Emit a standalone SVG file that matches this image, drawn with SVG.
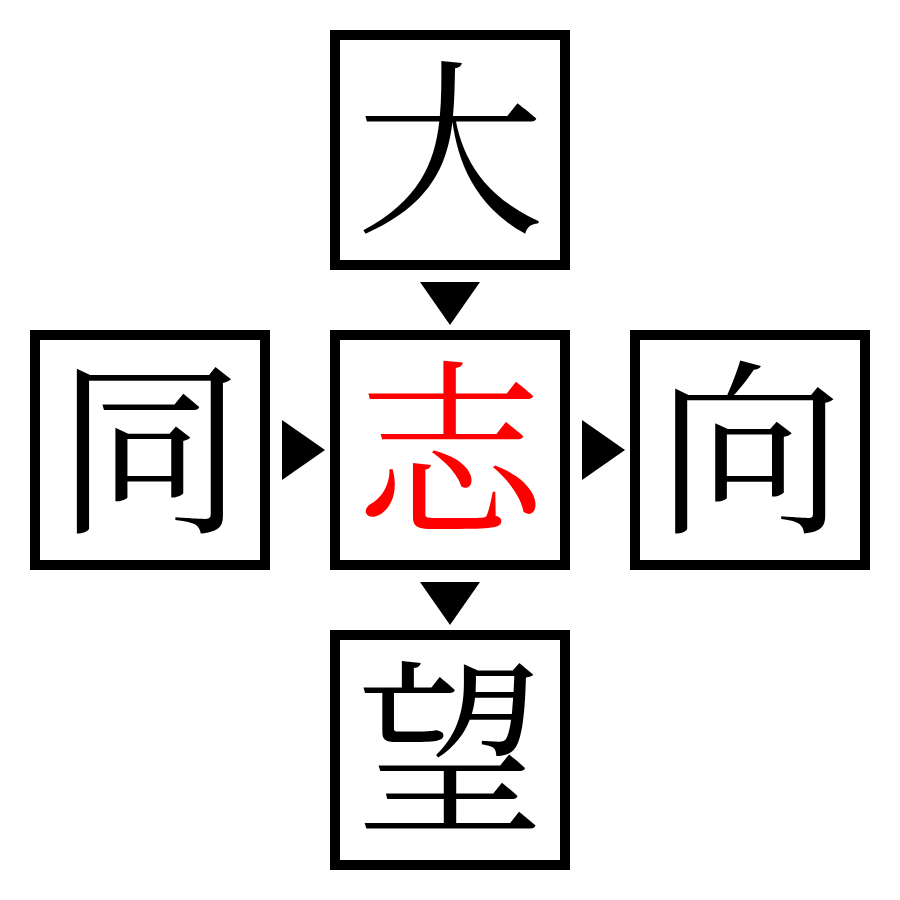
<svg xmlns="http://www.w3.org/2000/svg" width="900" height="900" viewBox="0 0 900 900">
<style>
.box{fill:#fff;stroke:#000;stroke-width:10}
.ch{font-family:"Noto Serif CJK JP","Noto Sans CJK JP","Noto Sans CJK SC",serif;font-size:188px;text-anchor:middle;fill:#000}
.hl{fill:#ff0000}
.arr{fill:#000}
</style>
<rect width="900" height="900" fill="#fff"/>
<g id="connectors">
<polygon class="arr" points="420,282 480,282 450,325"/>
<polygon class="arr" points="420,582 480,582 450,625"/>
<polygon class="arr" points="282,420 282,480 325,450"/>
<polygon class="arr" points="582,420 582,480 625,450"/>
</g>
<g id="node-top"><rect class="box" x="335" y="35" width="230" height="230"/><text class="ch" x="450" y="218">大</text></g>
<g id="node-left"><rect class="box" x="35" y="335" width="230" height="230"/><text class="ch" x="150" y="518">同</text></g>
<g id="node-center"><rect class="box" x="335" y="335" width="230" height="230"/><text class="ch hl" x="450" y="518">志</text></g>
<g id="node-right"><rect class="box" x="635" y="335" width="230" height="230"/><text class="ch" x="750" y="518">向</text></g>
<g id="node-bottom"><rect class="box" x="335" y="635" width="230" height="230"/><text class="ch" x="450" y="818">望</text></g>
</svg>
